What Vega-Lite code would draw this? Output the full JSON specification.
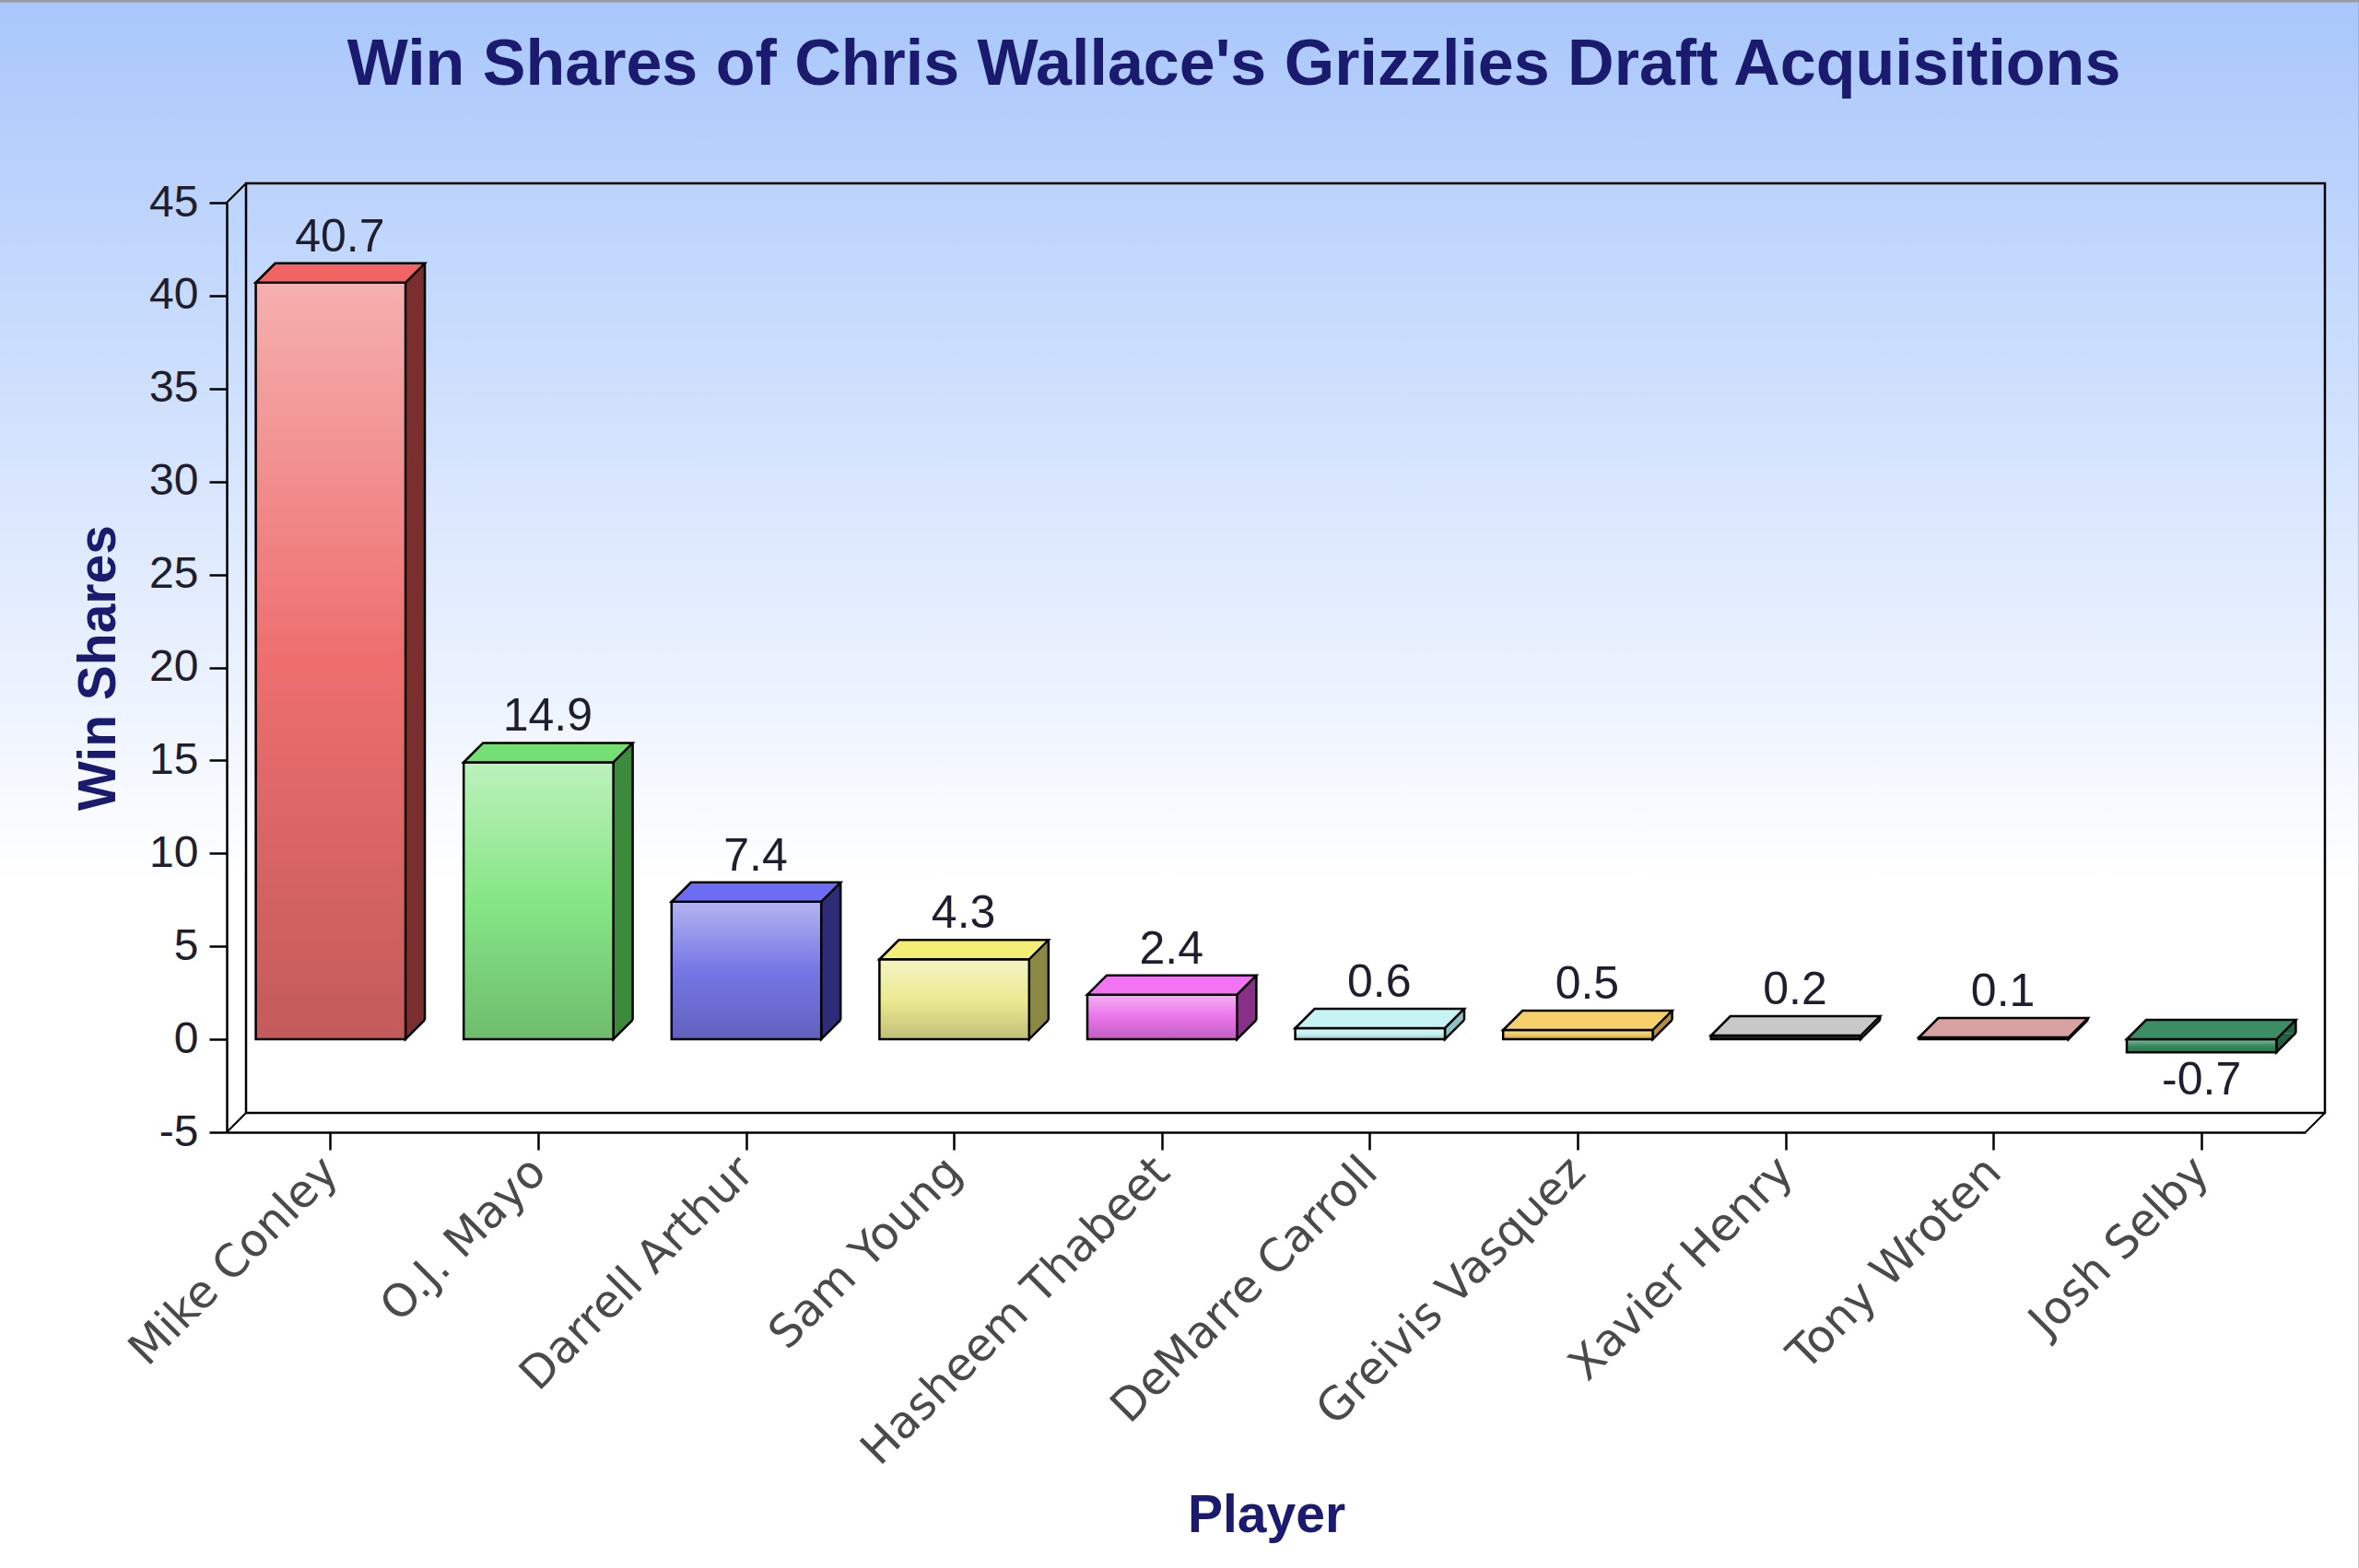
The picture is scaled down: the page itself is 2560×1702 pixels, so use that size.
{
  "$schema": "https://vega.github.io/schema/vega-lite/v6.json",
  "width": 2256,
  "height": 1009,
  "autosize": "none",
  "padding": {"left": 246, "top": 220, "right": 58, "bottom": 473},
  "background": "white",
  "config": {
    "view": {"stroke": null},
    "font": "Liberation Sans"
  },
  "title": {
    "text": "Win Shares of Chris Wallace's Grizzlies Draft Acquisitions",
    "font": "Liberation Sans",
    "fontSize": 70,
    "fontWeight": "bold",
    "color": "#1a1a6e",
    "anchor": "middle",
    "frame": "group",
    "baseline": "alphabetic",
    "dx": -35,
    "offset": -164
  },
  "data": {
    "values": [
      {"player": "Mike Conley", "ws": 40.7},
      {"player": "O.J. Mayo", "ws": 14.9},
      {"player": "Darrell Arthur", "ws": 7.4},
      {"player": "Sam Young", "ws": 4.3},
      {"player": "Hasheem Thabeet", "ws": 2.4},
      {"player": "DeMarre Carroll", "ws": 0.6},
      {"player": "Greivis Vasquez", "ws": 0.5},
      {"player": "Xavier Henry", "ws": 0.2},
      {"player": "Tony Wroten", "ws": 0.1},
      {"player": "Josh Selby", "ws": -0.7}
    ]
  },
  "layer": [
    {
      "data": {"values": [{}]},
      "mark": {
        "type": "rect",
        "xOffset": -250,
        "x2Offset": 60,
        "stroke": "#9a9a9a",
        "strokeWidth": 5,
        "fill": {
          "gradient": "linear",
          "x1": 0, "y1": 0, "x2": 0, "y2": 1,
          "stops": [
            {"offset": 0, "color": "#a9c7fb"},
            {"offset": 0.56, "color": "#ffffff"},
            {"offset": 1, "color": "#ffffff"}
          ]
        }
      },
      "encoding": {
        "x": {"value": 0},
        "x2": {"value": "width"},
        "y": {"datum": 55.9, "title": "Win Shares", "scale": {"domain": [-5, 45], "nice": false, "zero": false}},
        "y2": {"datum": -29}
      }
    },
    {
      "data": {"values": [{}]},
      "mark": {"type": "rect", "fill": "transparent", "stroke": "black", "strokeWidth": 2.5, "xOffset": 21, "x2Offset": 21, "yOffset": -21, "y2Offset": -21},
      "encoding": {
        "x": {"value": 0},
        "x2": {"value": "width"},
        "y": {"datum": 45, "title": "Win Shares", "scale": {"domain": [-5, 45], "nice": false, "zero": false}},
        "y2": {"datum": -5}
      }
    },
    {
      "data": {"values": [{}]},
      "mark": {"type": "rule", "stroke": "black", "strokeWidth": 2, "x2Offset": 21, "y2Offset": -21},
      "encoding": {
        "x": {"value": 0},
        "x2": {"value": 0},
        "y": {"datum": 45, "title": "Win Shares", "scale": {"domain": [-5, 45], "nice": false, "zero": false}},
        "y2": {"datum": 45}
      }
    },
    {
      "data": {"values": [{}]},
      "mark": {"type": "rule", "stroke": "black", "strokeWidth": 2, "x2Offset": 21, "y2Offset": -21},
      "encoding": {
        "x": {"value": 0},
        "x2": {"value": 0},
        "y": {"datum": -5, "title": "Win Shares", "scale": {"domain": [-5, 45], "nice": false, "zero": false}},
        "y2": {"datum": -5}
      }
    },
    {
      "data": {"values": [{}]},
      "mark": {"type": "rule", "stroke": "black", "strokeWidth": 2, "x2Offset": 21, "y2Offset": -21},
      "encoding": {
        "x": {"value": "width"},
        "x2": {"value": "width"},
        "y": {"datum": -5, "title": "Win Shares", "scale": {"domain": [-5, 45], "nice": false, "zero": false}},
        "y2": {"datum": -5}
      }
    },
    {
      "mark": {"type": "bar", "xOffset": 21, "yOffset": -21, "y2Offset": -21},
      "encoding": {
        "x": {"field": "player", "type": "nominal", "sort": null, "title": "Player", "scale": {"paddingInner": 0.28, "paddingOuter": 0.14}},
        "y": {"field": "ws", "type": "quantitative", "title": "Win Shares", "scale": {"domain": [-5, 45], "nice": false, "zero": false}},
        "y2": {"datum": 0},
        "fill": {
          "field": "player", "type": "nominal", "legend": null,
          "scale": {
            "domain": ["Mike Conley", "O.J. Mayo", "Darrell Arthur", "Sam Young", "Hasheem Thabeet", "DeMarre Carroll", "Greivis Vasquez", "Xavier Henry", "Tony Wroten", "Josh Selby"],
            "range": ["#7a2e2e", "#3c8a3c", "#2c2c78", "#8a8844", "#883088", "#8cc4c4", "#b88e3c", "#808080", "#a07070", "#226044"]
          }
        }
      }
    },
    {
      "mark": {"type": "rule", "stroke": "black", "strokeWidth": 2.5, "xOffset": 21, "yOffset": -21, "y2Offset": -21},
      "encoding": {
        "x": {"field": "player", "type": "nominal", "sort": null, "title": "Player", "bandPosition": 1, "scale": {"paddingInner": 0.28, "paddingOuter": 0.14}},
        "y": {"field": "ws", "type": "quantitative", "title": "Win Shares", "scale": {"domain": [-5, 45], "nice": false, "zero": false}},
        "y2": {"datum": 0}
      }
    },
    {
      "transform": [{"filter": "datum.ws >= 0"}],
      "mark": {"type": "point", "filled": true, "opacity": 1, "shape": "M0.812,-0.21L0.812,0L1.022,-0.21", "size": 40000, "stroke": "black", "strokeWidth": 2.5},
      "encoding": {
        "x": {"field": "player", "type": "nominal", "sort": null, "title": "Player", "scale": {"paddingInner": 0.28, "paddingOuter": 0.14}},
        "y": {"datum": 0, "title": "Win Shares", "scale": {"domain": [-5, 45], "nice": false, "zero": false}},
        "fill": {
          "field": "player", "type": "nominal", "legend": null,
          "scale": {
            "domain": ["Mike Conley", "O.J. Mayo", "Darrell Arthur", "Sam Young", "Hasheem Thabeet", "DeMarre Carroll", "Greivis Vasquez", "Xavier Henry", "Tony Wroten", "Josh Selby"],
            "range": ["#7a2e2e", "#3c8a3c", "#2c2c78", "#8a8844", "#883088", "#8cc4c4", "#b88e3c", "#808080", "#a07070", "#226044"]
          }
        }
      }
    },
    {
      "transform": [{"filter": "datum.ws < 0"}],
      "mark": {"type": "point", "filled": true, "opacity": 1, "shape": "M0.812,-0.21L0.812,0L1.022,-0.21", "size": 40000, "stroke": "black", "strokeWidth": 2.5},
      "encoding": {
        "x": {"field": "player", "type": "nominal", "sort": null, "title": "Player", "scale": {"paddingInner": 0.28, "paddingOuter": 0.14}},
        "y": {"field": "ws", "type": "quantitative", "title": "Win Shares", "scale": {"domain": [-5, 45], "nice": false, "zero": false}},
        "fill": {
          "field": "player", "type": "nominal", "legend": null,
          "scale": {
            "domain": ["Mike Conley", "O.J. Mayo", "Darrell Arthur", "Sam Young", "Hasheem Thabeet", "DeMarre Carroll", "Greivis Vasquez", "Xavier Henry", "Tony Wroten", "Josh Selby"],
            "range": ["#7a2e2e", "#3c8a3c", "#2c2c78", "#8a8844", "#883088", "#8cc4c4", "#b88e3c", "#808080", "#a07070", "#226044"]
          }
        }
      }
    },
    {
      "mark": {"type": "bar"},
      "encoding": {
        "x": {
          "field": "player", "type": "nominal", "sort": null, "title": "Player",
          "scale": {"paddingInner": 0.28, "paddingOuter": 0.14},
          "axis": {
            "zindex": 1,
            "title": "Player",
            "titleFont": "Liberation Sans",
            "titleFontSize": 57,
            "titleFontWeight": "bold",
            "titleColor": "#1a1a6e",
            "titleY": 433,
            "titleBaseline": "alphabetic",
            "labelAngle": -45,
            "labelFont": "DejaVu Sans",
            "labelFontSize": 49,
            "labelColor": "#4a4a4a",
            "labelPadding": 16,
            "labelLimit": 0,
            "tickSize": 19,
            "tickWidth": 2.5,
            "tickColor": "black",
            "domainColor": "black",
            "domainWidth": 2.5
          }
        },
        "y": {
          "field": "ws", "type": "quantitative", "title": "Win Shares",
          "scale": {"domain": [-5, 45], "nice": false, "zero": false},
          "axis": {
            "zindex": 1,
            "title": "Win Shares",
            "titleFont": "Liberation Sans",
            "titleFontSize": 57,
            "titleFontWeight": "bold",
            "titleColor": "#1a1a6e",
            "titleX": -122,
            "titleBaseline": "alphabetic",
            "values": [-5, 0, 5, 10, 15, 20, 25, 30, 35, 40, 45],
            "labelExpr": "'' + datum.value",
            "labelFont": "Liberation Sans",
            "labelFontSize": 48,
            "labelColor": "#1e1e2e",
            "labelPadding": 12,
            "tickSize": 19,
            "tickWidth": 2.5,
            "tickColor": "black",
            "domainColor": "black",
            "domainWidth": 2.5,
            "grid": false
          }
        },
        "y2": {"datum": 0},
        "fill": {
          "field": "player", "type": "nominal", "legend": null,
          "scale": {
            "domain": ["Mike Conley", "O.J. Mayo", "Darrell Arthur", "Sam Young", "Hasheem Thabeet", "DeMarre Carroll", "Greivis Vasquez", "Xavier Henry", "Tony Wroten", "Josh Selby"],
            "range": ["#ee6e6e", "#86e686", "#7676e6", "#ecea92", "#ea74ea", "#c4f2f2", "#f0c860", "#222222", "#d09a9a", "#358a5e"]
          }
        }
      }
    },
    {
      "mark": {
        "type": "bar",
        "stroke": "black",
        "strokeWidth": 2.5,
        "fill": {
          "gradient": "linear",
          "x1": 0, "y1": 0, "x2": 0, "y2": 1,
          "stops": [
            {"offset": 0, "color": "rgba(255,255,255,0.45)"},
            {"offset": 0.5, "color": "rgba(255,255,255,0)"},
            {"offset": 0.5, "color": "rgba(0,0,0,0)"},
            {"offset": 1, "color": "rgba(0,0,0,0.18)"}
          ]
        }
      },
      "encoding": {
        "x": {"field": "player", "type": "nominal", "sort": null, "title": "Player", "scale": {"paddingInner": 0.28, "paddingOuter": 0.14}},
        "y": {"field": "ws", "type": "quantitative", "title": "Win Shares", "scale": {"domain": [-5, 45], "nice": false, "zero": false}},
        "y2": {"datum": 0}
      }
    },
    {
      "transform": [{"filter": "datum.ws >= 0"}],
      "mark": {"type": "point", "filled": true, "opacity": 1, "shape": "M-0.812,0L0.812,0L1.022,-0.21L-0.602,-0.21Z", "size": 40000, "stroke": "black", "strokeWidth": 2.5},
      "encoding": {
        "x": {"field": "player", "type": "nominal", "sort": null, "title": "Player", "scale": {"paddingInner": 0.28, "paddingOuter": 0.14}},
        "y": {"field": "ws", "type": "quantitative", "title": "Win Shares", "scale": {"domain": [-5, 45], "nice": false, "zero": false}},
        "fill": {
          "field": "player", "type": "nominal", "legend": null,
          "scale": {
            "domain": ["Mike Conley", "O.J. Mayo", "Darrell Arthur", "Sam Young", "Hasheem Thabeet", "DeMarre Carroll", "Greivis Vasquez", "Xavier Henry", "Tony Wroten", "Josh Selby"],
            "range": ["#f06464", "#74e074", "#6c6cf4", "#f2ee76", "#f274f2", "#c6f4f4", "#f6d06a", "#c8c8c8", "#d8a2a2", "#3c8c64"]
          }
        }
      }
    },
    {
      "transform": [{"filter": "datum.ws < 0"}],
      "mark": {"type": "point", "filled": true, "opacity": 1, "shape": "M-0.812,0L0.812,0L1.022,-0.21L-0.602,-0.21Z", "size": 40000, "stroke": "black", "strokeWidth": 2.5},
      "encoding": {
        "x": {"field": "player", "type": "nominal", "sort": null, "title": "Player", "scale": {"paddingInner": 0.28, "paddingOuter": 0.14}},
        "y": {"datum": 0, "title": "Win Shares", "scale": {"domain": [-5, 45], "nice": false, "zero": false}},
        "fill": {
          "field": "player", "type": "nominal", "legend": null,
          "scale": {
            "domain": ["Mike Conley", "O.J. Mayo", "Darrell Arthur", "Sam Young", "Hasheem Thabeet", "DeMarre Carroll", "Greivis Vasquez", "Xavier Henry", "Tony Wroten", "Josh Selby"],
            "range": ["#f06464", "#74e074", "#6c6cf4", "#f2ee76", "#f274f2", "#c6f4f4", "#f6d06a", "#c8c8c8", "#d8a2a2", "#3c8c64"]
          }
        }
      }
    },
    {
      "transform": [{"filter": "datum.ws >= 0"}],
      "mark": {"type": "text", "font": "Liberation Sans", "fontSize": 50, "color": "#1e1e2e", "baseline": "alphabetic", "dx": 10, "dy": -34},
      "encoding": {
        "x": {"field": "player", "type": "nominal", "sort": null, "title": "Player", "scale": {"paddingInner": 0.28, "paddingOuter": 0.14}},
        "y": {"field": "ws", "type": "quantitative", "title": "Win Shares", "scale": {"domain": [-5, 45], "nice": false, "zero": false}},
        "text": {"field": "ws", "type": "nominal"}
      }
    },
    {
      "transform": [{"filter": "datum.ws < 0"}],
      "mark": {"type": "text", "font": "Liberation Sans", "fontSize": 50, "color": "#1e1e2e", "baseline": "top", "dy": 6},
      "encoding": {
        "x": {"field": "player", "type": "nominal", "sort": null, "title": "Player", "scale": {"paddingInner": 0.28, "paddingOuter": 0.14}},
        "y": {"field": "ws", "type": "quantitative", "title": "Win Shares", "scale": {"domain": [-5, 45], "nice": false, "zero": false}},
        "text": {"field": "ws", "type": "nominal"}
      }
    }
  ],
  "resolve": {"scale": {"fill": "independent"}}
}
